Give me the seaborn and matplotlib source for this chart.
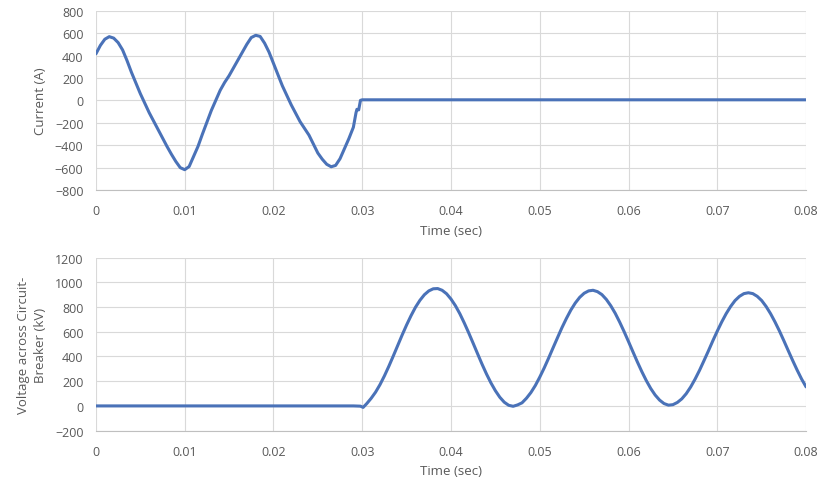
import numpy as np
import pandas as pd
import seaborn as sns
import matplotlib.pyplot as plt

# current through the breaker (A)
t_current = [0.0, 0.0005, 0.001, 0.0015, 0.002, 0.0025, 0.003, 0.0035, 0.004, 0.0045,
             0.005, 0.0055, 0.006, 0.0065, 0.007, 0.0075, 0.008, 0.0085, 0.009, 0.0095,
             0.010, 0.0105, 0.011, 0.0115, 0.012, 0.0125, 0.013, 0.0135, 0.014, 0.0145,
             0.015, 0.0155, 0.016, 0.0165, 0.017, 0.0175, 0.018, 0.0185, 0.019, 0.0195,
             0.020, 0.0205, 0.021, 0.0215, 0.022, 0.0225, 0.023, 0.0235, 0.024, 0.0245,
             0.025, 0.0255, 0.026, 0.0265, 0.027, 0.0275, 0.028, 0.0285, 0.029, 0.0293,
             0.0294, 0.0296, 0.0298, 0.030, 0.040, 0.050, 0.060, 0.070, 0.080]
current = [415, 490, 545, 568, 555, 515, 450, 355, 250, 155,
           60, -25, -110, -185, -260, -335, -410, -480, -545, -600,
           -618, -590, -500, -410, -300, -195, -90, 0, 90, 160,
           220, 290, 360, 430, 500, 560, 580, 570, 510, 430,
           330, 230, 130, 45, -40, -115, -190, -250, -310, -390,
           -470, -525, -570, -592, -580, -520, -430, -340, -240, -110,
           -80, -85, 0, 5, 5, 5, 5, 5, 5]

# voltage across the breaker (kV)
t_voltage = [0.0, 0.010, 0.020, 0.029, 0.0298, 0.0301, 0.0305, 0.031, 0.0315, 0.032,
             0.0325, 0.033, 0.0335, 0.034, 0.0345, 0.035, 0.0355, 0.036, 0.0365, 0.037,
             0.0375, 0.038, 0.0385, 0.039, 0.0395, 0.040, 0.0405, 0.041, 0.0415, 0.042,
             0.0425, 0.043, 0.0435, 0.044, 0.0445, 0.045, 0.0455, 0.046, 0.0465, 0.047,
             0.0475, 0.048, 0.0485, 0.049, 0.0495, 0.050, 0.0505, 0.051, 0.0515, 0.052,
             0.0525, 0.053, 0.0535, 0.054, 0.0545, 0.055, 0.0555, 0.056, 0.0565, 0.057,
             0.0575, 0.058, 0.0585, 0.059, 0.0595, 0.060, 0.0605, 0.061, 0.0615, 0.062,
             0.0625, 0.063, 0.0635, 0.064, 0.0645, 0.065, 0.0655, 0.066, 0.0665, 0.067,
             0.0675, 0.068, 0.0685, 0.069, 0.0695, 0.070, 0.0705, 0.071, 0.0715, 0.072,
             0.0725, 0.073, 0.0735, 0.074, 0.0745, 0.075, 0.0755, 0.076, 0.0765, 0.077,
             0.0775, 0.078, 0.0785, 0.079, 0.0795, 0.080]
voltage = [0, 0, 0, 0, -2, -12, 18, 61, 111, 172,
           243, 321, 404, 489, 574, 655, 730, 798, 854, 899,
           930, 947, 949, 935, 907, 864, 810, 745, 670, 590,
           506, 421, 337, 258, 186, 123, 70, 30, 5, -3,
           8, 25, 62, 108, 165, 233, 307, 387, 470, 552,
           633, 707, 775, 832, 878, 911, 930, 935, 924, 900,
           861, 810, 749, 678, 601, 520, 437, 355, 277, 205,
           141, 88, 47, 19, 6, 10, 28, 57, 99, 153,
           217, 288, 366, 445, 527, 605, 679, 746, 804, 852,
           886, 908, 915, 908, 886, 852, 804, 746, 679, 606,
           527, 446, 366, 289, 217, 154]

x_ticks = [0, 0.01, 0.02, 0.03, 0.04, 0.05, 0.06, 0.07, 0.08]
x_labels = ["0", "0.01", "0.02", "0.03", "0.04", "0.05", "0.06", "0.07", "0.08"]

sns.set_style("white")
plt.rcParams['font.family'] = ['Open Sans', 'DejaVu Sans']

line_color = "#4A72B8"
grid_color = "#D9D9D9"
text_color = "#595959"

fig = plt.figure(figsize=(8.2, 4.85), dpi=100)
ax1 = fig.add_axes([0.117, 0.606, 0.866, 0.370])
ax2 = fig.add_axes([0.117, 0.110, 0.866, 0.357])

df_i = pd.DataFrame({"t": t_current, "i": current})
df_v = pd.DataFrame({"t": t_voltage, "v": voltage})

sns.lineplot(data=df_i, x="t", y="i", ax=ax1, color=line_color, linewidth=2.2)
sns.lineplot(data=df_v, x="t", y="v", ax=ax2, color=line_color, linewidth=2.2)

ax1.set_ylim(-800, 800)
ax1.set_yticks(np.arange(-800, 801, 200))
ax1.set_ylabel("Current (A)", fontsize=9.5, color=text_color)
ax1.yaxis.set_label_coords(-0.069, 0.5)

ax2.set_ylim(-200, 1200)
ax2.set_yticks(np.arange(-200, 1201, 200))
ax2.set_ylabel("Voltage across Circuit-\nBreaker (kV)", fontsize=9.5,
               color=text_color, linespacing=1.4)
ax2.yaxis.set_label_coords(-0.069, 0.5)

for ax in (ax1, ax2):
    ax.set_xlim(0, 0.08)
    ax.set_xticks(x_ticks)
    ax.set_xticklabels(x_labels)
    ax.set_xlabel("Time (sec)", fontsize=9.5, color=text_color, labelpad=5)
    ax.grid(True, color=grid_color, linewidth=0.8)
    ax.set_axisbelow(True)
    for side, sp in ax.spines.items():
        sp.set_visible(side == "bottom")
    ax.spines["bottom"].set_color("#BFBFBF")
    ax.tick_params(axis="both", length=0, labelsize=9, labelcolor=text_color)
    ax.tick_params(axis="x", pad=10)
    ax.tick_params(axis="y", pad=9)

plt.savefig("out.png", dpi=100)
